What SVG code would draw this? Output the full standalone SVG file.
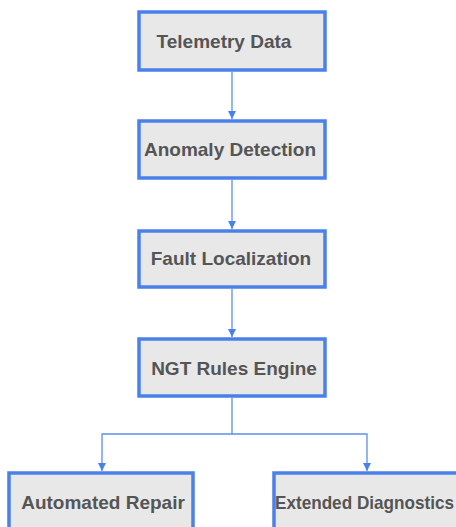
<svg xmlns="http://www.w3.org/2000/svg" width="456" height="527" viewBox="0 0 456 527">
<style>
.box{fill:#e8e8e8;stroke:#4a80ea;stroke-width:3.5}
.lbl{font-family:"Liberation Sans",Arial,sans-serif;font-weight:bold;font-size:19px;fill:#555555;text-anchor:middle}
.edge{fill:none;stroke:#5b8ef0;stroke-width:1.3}
</style>
<defs>
<marker id="arr" viewBox="0 0 10 10" refX="10" refY="5" markerWidth="8" markerHeight="8" markerUnits="userSpaceOnUse" orient="auto">
<path d="M0,0 L10,5 L0,10 Z" fill="#4a80ea"/>
</marker>
</defs>
<rect width="456" height="527" fill="#ffffff"/>
<g id="connectors">
<path class="edge" d="M232,72 V119" marker-end="url(#arr)"/>
<path class="edge" d="M232,180 V229" marker-end="url(#arr)"/>
<path class="edge" d="M232,289 V337" marker-end="url(#arr)"/>
<path class="edge" d="M232,398 V434 H102 V471" marker-end="url(#arr)"/>
<path class="edge" d="M232,434 H367 V471" marker-end="url(#arr)"/>
</g>
<g id="telemetry">
<rect class="box" x="139" y="12" width="186" height="58"/>
<text class="lbl" x="224" y="48">Telemetry Data</text>
</g>
<g id="anomaly">
<rect class="box" x="139" y="121" width="186" height="57"/>
<text class="lbl" x="230" y="156">Anomaly Detection</text>
</g>
<g id="fault">
<rect class="box" x="139" y="231" width="186" height="56"/>
<text class="lbl" x="231" y="265">Fault Localization</text>
</g>
<g id="ngt">
<rect class="box" x="139" y="339" width="186" height="57"/>
<text class="lbl" x="234" y="375">NGT Rules Engine</text>
</g>
<g id="repair">
<rect class="box" x="9" y="473" width="184" height="70"/>
<text class="lbl" x="103" y="509">Automated Repair</text>
</g>
<g id="diagnostics">
<rect class="box" x="274" y="473" width="186" height="70"/>
<text class="lbl" x="275" y="509" style="text-anchor:start" textLength="179" lengthAdjust="spacingAndGlyphs">Extended Diagnostics</text>
</g>
</svg>
